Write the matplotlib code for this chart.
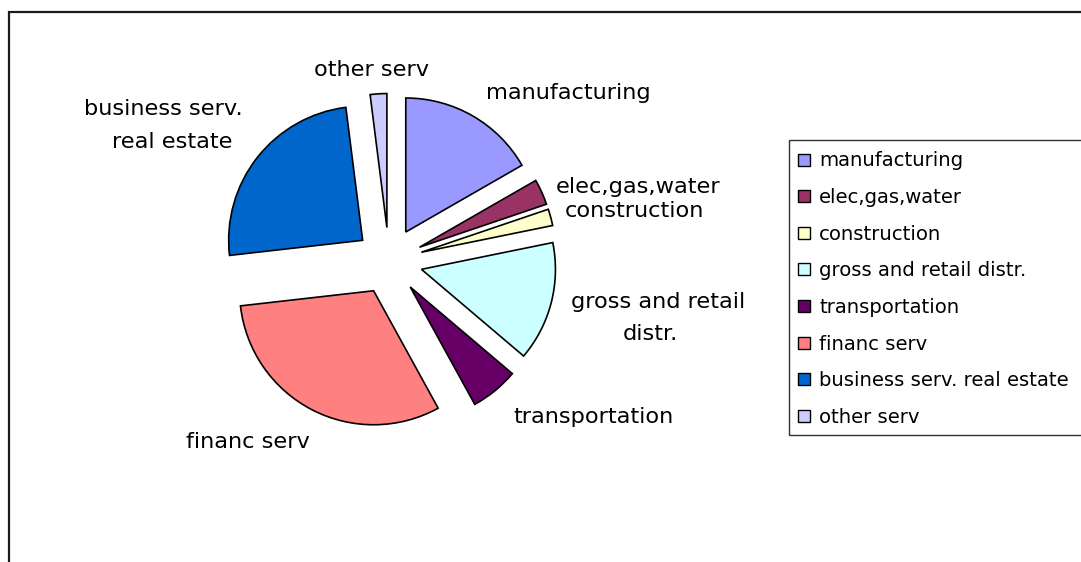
import matplotlib
matplotlib.use("Agg")
import matplotlib.pyplot as plt
from matplotlib.patches import Rectangle

# ---- data ----
categories = ["manufacturing", "elec,gas,water", "construction",
              "gross and retail distr.", "transportation", "financ serv",
              "business serv. real estate", "other serv"]
values = [16.7, 3.1, 2.0, 14.4, 5.8, 31.2, 24.8, 2.0]
slice_labels = ["manufacturing", "elec,gas,water", "construction",
                "gross and retail\ndistr.", "transportation", "financ serv",
                "business serv.\nreal estate", "other serv"]
colors = ["#9999FF", "#993366", "#FFFFCC", "#CCFFFF",
          "#660066", "#FF8080", "#0066CC", "#CCCCFF"]

# ---- layout (pixels) ----
W, H = 1081, 562
DPI = 100
plt.rcParams['font.family'] = ['DejaVu Sans']

fig = plt.figure(figsize=(W / DPI, H / DPI), dpi=DPI)
ax = fig.add_axes([0, 0, 1, 1])

def Y(y):
    return H - y

cx, cy, R = 389, 261, 134
explode_px = 33.5

wedges, _ = ax.pie(values, colors=colors, startangle=90, counterclock=False,
                   radius=R, center=(cx, Y(cy)),
                   explode=[explode_px] * len(values),
                   wedgeprops=dict(edgecolor="black", linewidth=1.2))
ax.set_xlim(0, W)
ax.set_ylim(0, H)
ax.set_aspect('equal', adjustable='box')
ax.axis('off')

# slice labels: per line (center x, baseline y) in image pixels
label_lines_pos = {
    "manufacturing": [(568.5, 99.3)],
    "elec,gas,water": [(638, 193.3)],
    "construction": [(634.7, 216.7)],
    "gross and retail\ndistr.": [(658, 308.3), (650, 340)],
    "transportation": [(594, 423.3)],
    "financ serv": [(248, 448)],
    "business serv.\nreal estate": [(163, 115), (172.5, 148.3)],
    "other serv": [(371.7, 76)],
}
for lab in slice_labels:
    for line, (x, y) in zip(lab.split("\n"), label_lines_pos[lab]):
        ax.text(x, Y(y), line, ha="center", va="baseline",
                fontsize=16.2, color="black")

# outer chart frame (left and top edges)
ax.plot([9, 9, W + 5], [Y(H + 5), Y(12), Y(12)], color="#1a1a1a",
        linewidth=1.6, clip_on=False, solid_joinstyle="miter")

# legend
lx, ly_top, ly_bot = 789, 139.5, 435
ax.add_patch(Rectangle((lx, Y(ly_bot)), 400, ly_bot - ly_top,
                       facecolor="white", edgecolor="#303030",
                       linewidth=1.0, clip_on=False))
row0, step = 159.5, 36.6
for i, (cat, col) in enumerate(zip(categories, colors)):
    yc = row0 + i * step
    ax.add_patch(Rectangle((797.5, Y(yc + 6)), 12, 12, facecolor=col,
                           edgecolor="black", linewidth=1.0))
    ax.text(819, Y(yc + 7), cat, ha="left", va="baseline",
            fontsize=14.1, color="black")

fig.savefig("out.png", dpi=DPI)
